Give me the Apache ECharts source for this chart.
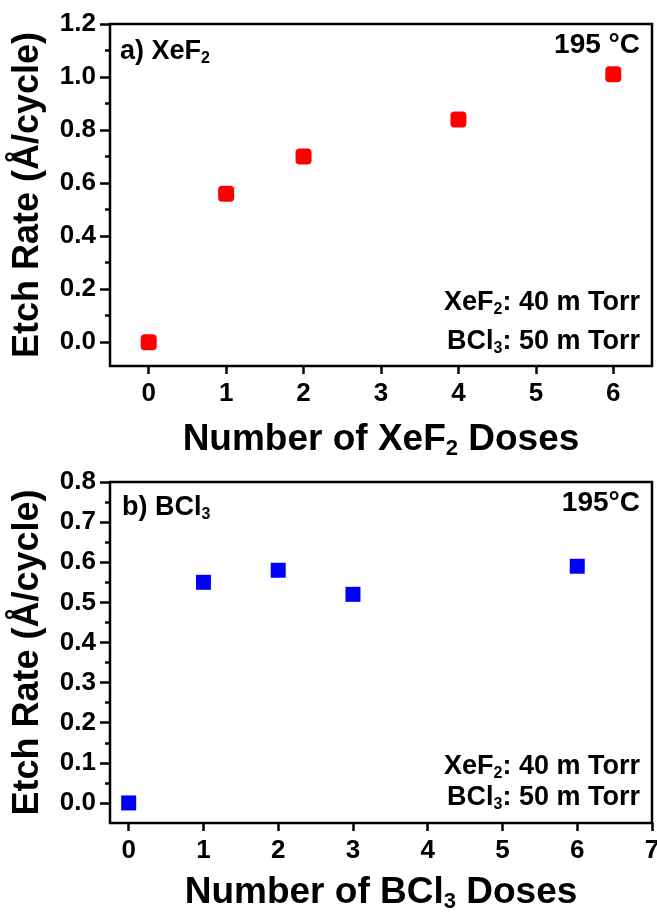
<!DOCTYPE html>
<html>
<head>
<meta charset="utf-8">
<script src="https://cdn.jsdelivr.net/npm/echarts@6/dist/echarts.min.js"></script>
<style>
  html, body { margin: 0; padding: 0; background: #fff; }
  #chart { width: 657px; height: 915px; }
</style>
</head>
<body>
<div id="chart"></div>
<script>
// a) etch rate vs number of XeF2 doses
const xefDoses = [0, 1, 2, 4, 6];
const xefRates = [0.0, 0.56, 0.70, 0.84, 1.01];

// b) etch rate vs number of BCl3 doses
const bclDoses = [0, 1, 2, 3, 6];
const bclRates = [0.0, 0.55, 0.58, 0.52, 0.59];

// frame ranges and labelled tick ranges
const topXRange = [-0.5, 6.5], topXTicks = [0, 6];
const topYRange = [-0.09, 1.2], topYTicks = [0, 1.2];
const botXRange = [-0.25, 7], botXTicks = [0, 7];
const botYRange = [-0.05, 0.8], botYTicks = [0, 0.8];

const FONT = "'Liberation Sans', Arial, sans-serif";
const INK = '#000';
const AXW = 657;

const sub = (size, lh) => ({
  t: { fontFamily: FONT, fontWeight: 'bold', fontSize: size, lineHeight: lh, color: INK },
  s: { fontFamily: FONT, fontWeight: 'bold', fontSize: Math.round(size * 0.6), lineHeight: Math.round(lh * 0.42), verticalAlign: 'bottom', color: INK }
});

const option = {
  animation: false,
  backgroundColor: '#fff',
  grid: [], xAxis: [], yAxis: [], series: [], title: []
};

function panel(p) {
  const g = option.grid.length;
  const w = p.right - p.left, h = p.bottom - p.top;
  const xs = w / (p.xRange[1] - p.xRange[0]);
  const ys = h / (p.yRange[1] - p.yRange[0]);

  // frame + data
  option.grid.push({ left: p.left, top: p.top, width: w, height: h, show: true,
    borderColor: INK, borderWidth: 2.5, backgroundColor: 'transparent', outerBoundsMode: 'none' });
  // strip carrying the x ticks
  option.grid.push({ left: p.left + (p.xTicks[0] - p.xRange[0]) * xs, width: (p.xTicks[1] - p.xTicks[0]) * xs,
    top: p.top, height: h, outerBoundsMode: 'none' });
  // strip carrying the y ticks
  option.grid.push({ left: p.left, width: w, top: p.top + (p.yRange[1] - p.yTicks[1]) * ys,
    height: (p.yTicks[1] - p.yTicks[0]) * ys, outerBoundsMode: 'none' });

  const xi = option.xAxis.length, yi = option.yAxis.length;
  const off = { show: false };

  option.xAxis.push({
    gridIndex: g, type: 'value', min: p.xRange[0], max: p.xRange[1],
    axisLine: off, axisTick: off, axisLabel: off, splitLine: off,
    name: p.xName, nameLocation: 'middle', nameGap: p.xNameGap,
    nameTextStyle: { rich: sub(37, 40) }
  });
  option.yAxis.push({
    gridIndex: g, type: 'value', min: p.yRange[0], max: p.yRange[1],
    axisLine: off, axisTick: off, axisLabel: off, splitLine: off,
    name: 'Etch Rate (Å/cycle)', nameLocation: 'middle', nameGap: 64,
    nameTextStyle: { fontFamily: FONT, fontWeight: 'bold', fontSize: 36, color: INK }
  });

  option.xAxis.push({
    gridIndex: g + 1, type: 'value', min: p.xTicks[0], max: p.xTicks[1], interval: 1,
    axisLine: off, splitLine: off,
    axisTick: { show: true, inside: false, length: 8, lineStyle: { color: INK, width: 2.5 } },
    axisLabel: { margin: 15, fontFamily: FONT, fontWeight: 'bold', fontSize: 26, color: INK }
  });
  option.yAxis.push({ gridIndex: g + 1, type: 'value', show: false });

  option.xAxis.push({ gridIndex: g + 2, type: 'value', show: false });
  option.yAxis.push({
    gridIndex: g + 2, type: 'value', min: p.yTicks[0], max: p.yTicks[1], interval: p.yStep,
    axisLine: off, splitLine: off, minorSplitLine: off,
    axisTick: { show: true, inside: false, length: 10, lineStyle: { color: INK, width: 2.5 } },
    minorTick: { show: true, splitNumber: 2, length: 5, lineStyle: { color: INK, width: 2.5 } },
    axisLabel: { margin: 14, fontFamily: FONT, fontWeight: 'bold', fontSize: 26, color: INK,
      formatter: v => v.toFixed(1) }
  });

  option.series.push({
    type: 'scatter', xAxisIndex: xi, yAxisIndex: yi,
    symbol: p.symbol, symbolSize: p.symbolSize,
    itemStyle: { color: p.color, opacity: 1 },
    data: p.x.map((d, i) => [d, p.y[i]])
  });

  p.notes.forEach(n => option.title.push(Object.assign({
    text: n.text, padding: 0, textStyle: { rich: sub(n.size, n.size + 4) }
  }, n.pos)));
}

panel({
  left: 110, right: 652, top: 24, bottom: 366,
  xRange: topXRange, xTicks: topXTicks, yRange: topYRange, yTicks: topYTicks, yStep: 0.2,
  x: xefDoses, y: xefRates, color: '#ff0000', symbol: 'roundRect', symbolSize: 16,
  xName: '{t|Number of XeF}{s|2}{t| Doses}', xNameGap: 54,
  notes: [
    { text: '{t|a) XeF}{s|2}', size: 27, pos: { left: 120, top: 36 } },
    { text: '{t|195 °C}', size: 28, pos: { right: AXW - 640, top: 29 } },
    { text: '{t|XeF}{s|2}{t|: 40 m Torr}', size: 27, pos: { right: AXW - 640, top: 287 } },
    { text: '{t|BCl}{s|3}{t|: 50 m Torr}', size: 27, pos: { right: AXW - 640, top: 326 } }
  ]
});

panel({
  left: 110, right: 652, top: 482, bottom: 823,
  xRange: botXRange, xTicks: botXTicks, yRange: botYRange, yTicks: botYTicks, yStep: 0.1,
  x: bclDoses, y: bclRates, color: '#0000ff', symbol: 'rect', symbolSize: 15,
  xName: '{t|Number of BCl}{s|3}{t| Doses}', xNameGap: 50,
  notes: [
    { text: '{t|b) BCl}{s|3}', size: 27, pos: { left: 122, top: 492 } },
    { text: '{t|195°C}', size: 28, pos: { right: AXW - 640, top: 487 } },
    { text: '{t|XeF}{s|2}{t|: 40 m Torr}', size: 27, pos: { right: AXW - 640, top: 751 } },
    { text: '{t|BCl}{s|3}{t|: 50 m Torr}', size: 27, pos: { right: AXW - 640, top: 782 } }
  ]
});

const chart = echarts.init(document.getElementById('chart'));
chart.setOption(option);
</script>
</body>
</html>
